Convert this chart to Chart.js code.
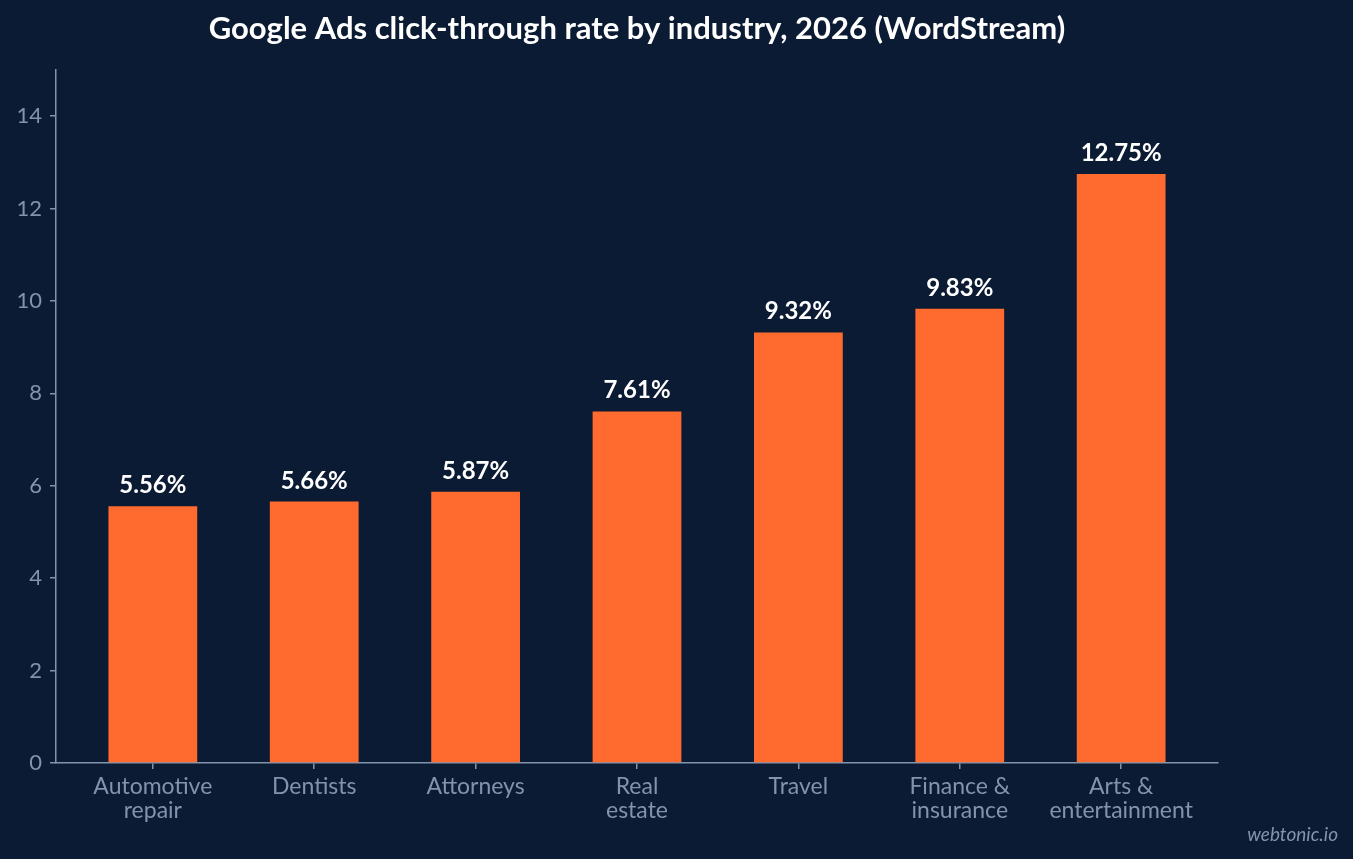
<!DOCTYPE html>
<html>
<head>
<meta charset="utf-8">
<script src="https://cdn.jsdelivr.net/npm/chart.js@4.4.1/dist/chart.umd.min.js"></script>
<style>
  html, body { margin: 0; padding: 0; background: #0b1b33; }
  #wrap { width: 1353px; height: 859px; position: relative; }
</style>
</head>
<body>
<div id="wrap"><canvas id="c" width="1353" height="859"></canvas></div>
<script>
const titleText = "Google Ads click-through rate by industry, 2026 (WordStream)";
const categories = [
  ["Automotive", "repair"],
  ["Dentists"],
  ["Attorneys"],
  ["Real", "estate"],
  ["Travel"],
  ["Finance &", "insurance"],
  ["Arts &", "entertainment"]
];
const ctrValues = [5.56, 5.66, 5.87, 7.61, 9.32, 9.83, 12.75];
const yTicks = [0, 2, 4, 6, 8, 10, 12, 14];
const sourceNote = "webtonic.io";

const BG = "#0b1b33";
const AXIS = "#8293ae";
const BAR = "#ff6b2f";
const FONT = "Lato, 'Open Sans', sans-serif";

const points = ctrValues.map((v, i) => ({ x: i, y: v }));

const bgPlugin = {
  id: "bg",
  beforeDraw(chart) {
    const { ctx } = chart;
    ctx.save();
    ctx.fillStyle = BG;
    ctx.fillRect(0, 0, chart.width, chart.height);
    ctx.restore();
  }
};

const overlayPlugin = {
  id: "overlay",
  afterDatasetsDraw(chart) {
    const { ctx } = chart;
    const meta = chart.getDatasetMeta(0);
    ctx.save();
    ctx.fillStyle = "#ffffff";
    ctx.font = "bold 24px " + FONT;
    ctx.textAlign = "center";
    ctx.textBaseline = "alphabetic";
    meta.data.forEach((bar, i) => {
      ctx.fillText(ctrValues[i].toFixed(2) + "%", bar.x, bar.y - 13);
    });
    ctx.restore();
  },
  afterDraw(chart) {
    const { ctx, chartArea } = chart;
    ctx.save();
    ctx.fillStyle = "#ffffff";
    ctx.font = "bold 31px " + FONT;
    ctx.textAlign = "center";
    ctx.textBaseline = "alphabetic";
    ctx.fillText(titleText, (chartArea.left + chartArea.right) / 2, 39);
    ctx.font = "italic 19px " + FONT;
    ctx.fillStyle = AXIS;
    ctx.textAlign = "right";
    ctx.fillText(sourceNote, 1338, 841);
    ctx.restore();
  }
};

new Chart(document.getElementById("c"), {
  type: "bar",
  data: {
    datasets: [{
      data: points,
      backgroundColor: BAR,
      borderWidth: 0,
      barPercentage: 0.55,
      categoryPercentage: 1.0
    }]
  },
  options: {
    responsive: false,
    animation: false,
    devicePixelRatio: 1,
    layout: { padding: { top: 70, right: 135, left: 0, bottom: 0 } },
    plugins: {
      legend: { display: false },
      title: { display: false },
      tooltip: { enabled: false }
    },
    scales: {
      x: {
        type: "linear",
        min: -0.6,
        max: 6.6,
        offset: false,
        afterBuildTicks(scale) {
          scale.ticks = categories.map((_, i) => ({ value: i }));
        },
        afterFit(scale) { scale.height = 96; },
        ticks: {
          color: AXIS,
          font: { family: FONT, size: 23, lineHeight: 1.02 },
          padding: 6,
          maxRotation: 0,
          autoSkip: false,
          callback: (v) => categories[v] || ""
        },
        grid: {
          display: true,
          offset: false,
          drawOnChartArea: false,
          drawTicks: true,
          tickLength: 6,
          color: AXIS,
          lineWidth: 1.5
        },
        border: { display: true, color: AXIS, width: 1.5 }
      },
      y: {
        min: 0,
        max: 15,
        afterBuildTicks(scale) {
          scale.ticks = yTicks.map(v => ({ value: v }));
        },
        afterFit(scale) { scale.width = 56; },
        ticks: {
          color: AXIS,
          font: { family: FONT, size: 22 },
          padding: 8
        },
        grid: {
          display: true,
          drawOnChartArea: false,
          drawTicks: true,
          tickLength: 6,
          color: AXIS,
          lineWidth: 1.5
        },
        border: { display: true, color: AXIS, width: 1.5 }
      }
    }
  },
  plugins: [bgPlugin, overlayPlugin]
});
</script>
</body>
</html>
